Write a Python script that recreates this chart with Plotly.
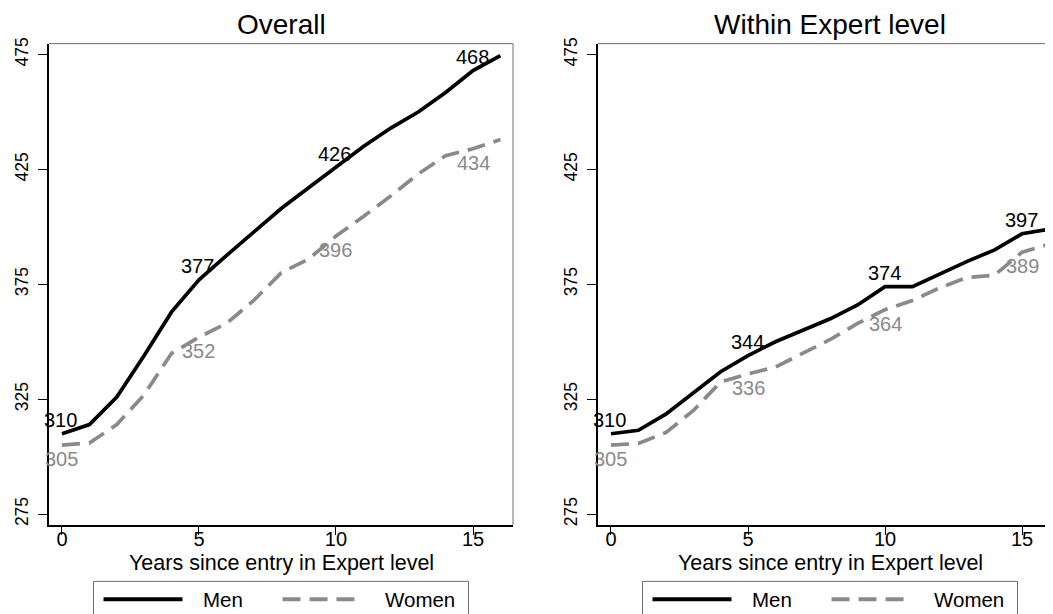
import plotly.graph_objects as go

years = list(range(17))
men_overall = [310, 314, 326, 344, 363, 377, 387.5, 398, 408, 417, 426, 435, 443, 450, 458.5, 468, 474.5]
women_overall = [305, 306, 314, 327, 345, 352, 358, 368, 380, 386, 396, 404.5, 413.5, 423, 431, 434, 438]
men_within = [310, 311.5, 318.5, 327.5, 337, 344, 350, 355, 360, 366, 374, 374, 379.5, 385, 390, 397, 399]
women_within = [305, 305.8, 310.5, 320, 332.5, 336, 339, 345, 351, 358, 364, 368, 373.5, 378, 379, 389, 392.5]
label_years = [0, 5, 10, 15]
panel_titles = ["Overall", "Within Expert level"]
x_title = "Years since entry in Expert level"
y_ticks = [275, 325, 375, 425, 475]
x_ticks = [0, 5, 10, 15]
series_names = ["Men", "Women"]

# page offset of the plot div (default body margin)
OFF = 8
W, H = 1053 - OFF, 614 - OFF
FONT = "Liberation Sans, Arial, sans-serif"
BLACK = "#000000"
GRAY = "#8a8a8a"
DASH = "18px,9px"

def px(v):
    return (v - OFF) / W

def py(v):
    return 1 - (v - OFF) / H

fig = go.Figure()

panels = [
    dict(men=men_overall, women=women_overall, xa="x", ya="y"),
    dict(men=men_within, women=women_within, xa="x2", ya="y2"),
]

annotations = []
for p in panels:
    fig.add_trace(go.Scatter(x=years, y=p["men"], mode="lines", xaxis=p["xa"], yaxis=p["ya"],
                             line=dict(color=BLACK, width=3.7), showlegend=False, hoverinfo="skip"))
    fig.add_trace(go.Scatter(x=years, y=p["women"], mode="lines", xaxis=p["xa"], yaxis=p["ya"],
                             line=dict(color=GRAY, width=3.7, dash=DASH), showlegend=False, hoverinfo="skip"))
    for i in label_years:
        annotations.append(dict(x=years[i], y=p["men"][i], xref=p["xa"], yref=p["ya"],
                                text=f"{p['men'][i]:.0f}", showarrow=False, xanchor="center",
                                yanchor="middle", yshift=13.5, xshift=-1,
                                font=dict(family=FONT, size=20, color=BLACK)))
        annotations.append(dict(x=years[i], y=p["women"][i], xref=p["xa"], yref=p["ya"],
                                text=f"{p['women'][i]:.0f}", showarrow=False, xanchor="center",
                                yanchor="middle", yshift=-14, xshift=0,
                                font=dict(family=FONT, size=20, color=GRAY)))

ydom = [py(525), py(38)]
common_x = dict(showline=True, linecolor=BLACK, linewidth=2, ticks="outside", ticklen=8, tickwidth=1,
                tickcolor=BLACK, tickvals=x_ticks, showgrid=False, zeroline=False, ticklabelstandoff=-13,
                tickfont=dict(family=FONT, size=20, color=BLACK))
common_y = dict(showline=True, linecolor=BLACK, linewidth=2, ticks="outside", ticklen=9, tickwidth=1,
                tickcolor=BLACK, tickvals=y_ticks, showgrid=False, zeroline=False, tickangle=-90,
                range=[270.27, 479.73], ticklabelstandoff=3,
                tickfont=dict(family=FONT, size=17.5, color=BLACK))

fig.update_layout(
    width=W, height=H, margin=dict(l=0, r=0, t=0, b=0),
    paper_bgcolor="white", plot_bgcolor="white", showlegend=False,
    xaxis=dict(domain=[px(49), px(513)], range=[-0.474, 16.46], anchor="y", **common_x),
    yaxis=dict(domain=ydom, anchor="x", **common_y),
    xaxis2=dict(domain=[px(598), 1.0], range=[-0.474, 16.13], anchor="y2", **common_x),
    yaxis2=dict(domain=ydom, anchor="x2", **common_y),
)

shapes = []
for xa, ya, right in [("x", "y", True), ("x2", "y2", False)]:
    shapes.append(dict(type="line", xref=f"{xa} domain", yref=f"{ya} domain", x0=0, x1=1, y0=1, y1=1,
                       line=dict(color="#6e6e6e", width=1)))
    if right:
        shapes.append(dict(type="line", xref=f"{xa} domain", yref=f"{ya} domain", x0=1, x1=1, y0=0, y1=1,
                           line=dict(color="#6e6e6e", width=1)))

centers = [281, 830]
for c, t in zip(centers, panel_titles):
    annotations.append(dict(text=t, x=px(c), y=py(19), xref="paper", yref="paper", showarrow=False,
                            xanchor="center", yanchor="middle", font=dict(family=FONT, size=28, color=BLACK)))
    annotations.append(dict(text=x_title, x=px(c), y=py(563), xref="paper", yref="paper", showarrow=False,
                            xanchor="center", yanchor="middle", font=dict(family=FONT, size=21.5, color=BLACK)))
    left = c - 187.5
    shapes.append(dict(type="rect", xref="paper", yref="paper", x0=px(left), x1=px(left + 375),
                       y0=py(622), y1=py(582), line=dict(color="#6e6e6e", width=1), fillcolor="white",
                       layer="below"))
    shapes.append(dict(type="line", xref="paper", yref="paper", x0=px(left + 10), x1=px(left + 89),
                       y0=py(600), y1=py(600), line=dict(color=BLACK, width=4)))
    shapes.append(dict(type="line", xref="paper", yref="paper", x0=px(left + 189), x1=px(left + 270),
                       y0=py(600), y1=py(600), line=dict(color=GRAY, width=4, dash=DASH)))
    annotations.append(dict(text=series_names[0], x=px(left + 107), y=py(600), xref="paper", yref="paper",
                            showarrow=False, xanchor="left", yanchor="middle",
                            font=dict(family=FONT, size=20.5, color=BLACK)))
    annotations.append(dict(text=series_names[1], x=px(left + 289), y=py(600), xref="paper", yref="paper",
                            showarrow=False, xanchor="left", yanchor="middle",
                            font=dict(family=FONT, size=20.5, color=BLACK)))

fig.update_layout(shapes=shapes, annotations=annotations)
fig.write_html("out.html")
